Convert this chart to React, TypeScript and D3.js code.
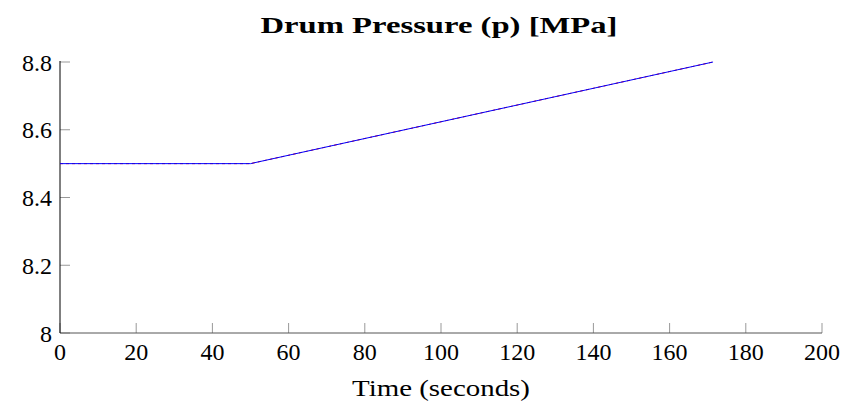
import React from "react";
import * as d3 from "d3";

const times = [0, 50, 171.4];
const pressureRef = [8.5, 8.5, 8.8];
const pressureSim = [8.5, 8.5, 8.8];
const xTicks = [0, 20, 40, 60, 80, 100, 120, 140, 160, 180, 200];
const yTicks = [8, 8.2, 8.4, 8.6, 8.8];
const yTickLabels = ["8", "8.2", "8.4", "8.6", "8.8"];

const W = 848, H = 410;
const M = { left: 60, right: 26, top: 62, bottom: 77 };

export default function App() {
  const x = d3.scaleLinear().domain([0, 200]).range([M.left, W - M.right]);
  const y = d3.scaleLinear().domain([8, 8.8]).range([H - M.bottom, M.top]);
  const line = d3.line<number>().x((_, i) => x(times[i])).y((d) => y(d));
  const font = "'Liberation Serif', 'DejaVu Serif', serif";
  const x0 = x(0), y0 = y(8);
  return (
    <svg width={W} height={H} style={{ position: "absolute", left: 0, top: 0 }} fontFamily={font}>
      <rect width={W} height={H} fill="white" />
      <text x={439} y={33} textAnchor="middle" fontSize={23} fontWeight="bold" textLength={357} lengthAdjust="spacingAndGlyphs">
        Drum Pressure (p) [MPa]
      </text>
      {xTicks.map((t) => (
        <g key={"x" + t}>
          <line x1={x(t)} x2={x(t)} y1={y0} y2={y0 - 10} stroke="#999" strokeWidth={1} />
          <text x={x(t)} y={360} textAnchor="middle" fontSize={24}>{t}</text>
        </g>
      ))}
      {yTicks.map((t, i) => (
        <g key={"y" + t}>
          <line x1={x0} x2={x0 + 10} y1={y(t)} y2={y(t)} stroke="#999" strokeWidth={1} />
          <text x={52} y={y(t) + 8.5} textAnchor="end" fontSize={24}>{yTickLabels[i]}</text>
        </g>
      ))}
      <line x1={x0} x2={W - M.right} y1={y0} y2={y0} stroke="#555" strokeWidth={1} />
      <line x1={x0} x2={x0} y1={y0} y2={M.top - 1} stroke="black" strokeWidth={1} />
      <path d={line(pressureRef) || ""} fill="none" stroke="red" strokeWidth={1} strokeDasharray="3 3" />
      <path d={line(pressureSim) || ""} fill="none" stroke="blue" strokeWidth={1} />
      <text x={441} y={396} textAnchor="middle" fontSize={24} textLength={178} lengthAdjust="spacingAndGlyphs">Time (seconds)</text>
    </svg>
  );
}
